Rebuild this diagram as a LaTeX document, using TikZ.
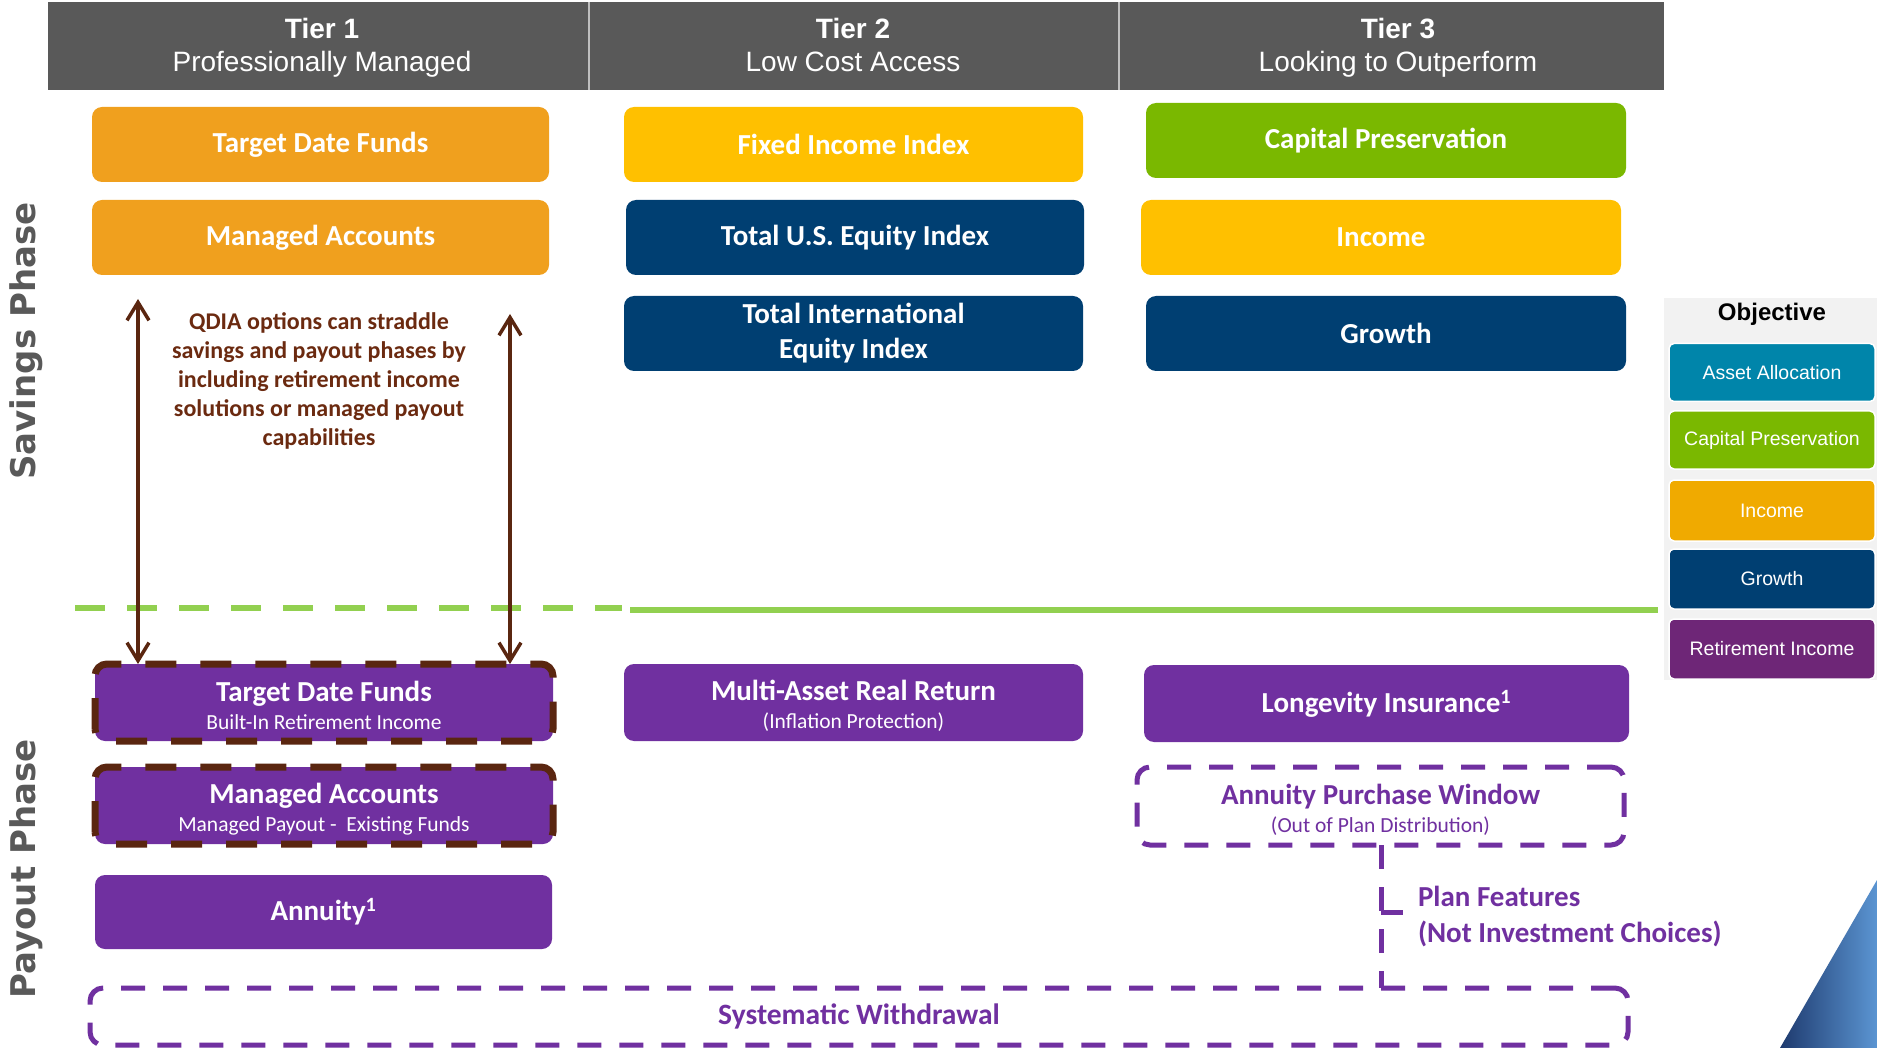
\documentclass[tikz,border=0pt]{standalone}
\usepackage{fontspec}
\setmainfont{Carlito}
\newfontfamily\arialfont{Liberation Sans}
\newfontfamily\phasefont{DejaVu Sans}
\usetikzlibrary{arrows.meta}

\definecolor{hdrgray}{HTML}{595959}
\definecolor{hdrline}{HTML}{BFBFBF}
\definecolor{tdforange}{HTML}{F0A01E}
\definecolor{incyellow}{HTML}{FFC000}
\definecolor{navy}{HTML}{003F72}
\definecolor{cpgreen}{HTML}{7AB800}
\definecolor{ripurple}{HTML}{7030A0}
\definecolor{qdiabrown}{HTML}{5A2610}
\definecolor{qdiatext}{HTML}{6B2A10}
\definecolor{sepgreen}{HTML}{92D050}
\definecolor{legbg}{HTML}{F2F2F2}
\definecolor{legteal}{HTML}{0085AA}
\definecolor{legorange}{HTML}{F0AA00}
\definecolor{legpurple}{HTML}{6E2677}
\definecolor{wedgedark}{HTML}{1E3A6E}
\definecolor{wedgelight}{HTML}{5B95D2}

\newcommand{\boxtitle}{\fontsize{29}{35}\selectfont\bfseries}
\newcommand{\boxsub}{\fontsize{21.5}{24}\selectfont\mdseries}
% first-line strut that nudges two-line box texts slightly downward
\newcommand{\dropline}{\rule{0pt}{27pt}}

\begin{document}
\begin{tikzpicture}[x=1pt,y=-1pt,
  every node/.style={inner sep=0pt, outer sep=0pt},
  fund/.style={rounded corners=10pt, text=white, align=center, font=\boxtitle},
  brownedge/.style={draw=qdiabrown, line width=7pt, dash pattern=on 31pt off 24pt},
  planedge/.style={draw=ripurple, line width=5pt, dash pattern=on 24pt off 18pt, rounded corners=13pt},
  tiername/.style={anchor=base, text=white, font=\arialfont\bfseries\fontsize{28}{33}\selectfont},
  tiersub/.style={anchor=base, text=white, font=\arialfont\fontsize{28}{33}\selectfont},
  legbox/.style={rounded corners=5pt, draw=white, line width=1.5pt, text=white,
    minimum width=206pt, font=\arialfont\fontsize{19.5}{22}\selectfont},
  qdiaarrow/.style={draw=qdiabrown, line width=3.5pt,
    {Straight Barb[length=18pt, width=22pt, line width=3.5pt]}-{Straight Barb[length=18pt, width=22pt, line width=3.5pt]}},
  phase/.style={rotate=90, text=hdrgray, font=\phasefont\bfseries\fontsize{34}{40}\selectfont}
]
\useasboundingbox (0,0) rectangle (1877,1048);
\fill[white] (0,0) rectangle (1877,1048);

% tier header band
\fill[hdrgray] (48,2) rectangle (1664,90);
\draw[hdrline, line width=2pt] (589,2) -- (589,90);
\draw[hdrline, line width=2pt] (1119,2) -- (1119,90);
\node[tiername] (tier1) at (322,39) {Tier 1};
\node[tiersub] (tier1sub) at (322,72) {Professionally Managed};
\node[tiername] (tier2) at (853,39) {Tier 2};
\node[tiersub] (tier2sub) at (853,72) {Low Cost Access};
\node[tiername] (tier3) at (1398,39) {Tier 3};
\node[tiersub] (tier3sub) at (1398,72) {Looking to Outperform};

% phase labels
\node[phase] (savings) at (26,341) {Savings Phase};
\node[phase] (payout) at (26,869) {Payout Phase};

% savings phase funds
\node[fund, fill=tdforange, minimum width=457pt, minimum height=75pt] (tdf) at (320.5,144.5) {Target Date Funds};
\node[fund, fill=tdforange, minimum width=457pt, minimum height=75pt] (ma) at (320.5,237.5) {Managed Accounts};
\node[fund, fill=incyellow, minimum width=459pt, minimum height=75pt] (fii) at (853.5,144.5) {Fixed Income Index};
\node[fund, fill=navy, minimum width=458pt, minimum height=75pt] (usei) at (855,237.5) {Total U.S. Equity Index};
\node[fund, fill=navy, minimum width=459pt, minimum height=75pt] (intl) at (853.5,333.5) {Total International\\Equity Index};
\node[fund, fill=cpgreen, minimum width=480pt, minimum height=75pt] (cp) at (1386,140.5) {Capital Preservation};
\node[fund, fill=incyellow, minimum width=480pt, minimum height=75pt] (inc) at (1381,237.5) {Income};
\node[fund, fill=navy, minimum width=480pt, minimum height=75pt] (gro) at (1386,333.5) {Growth};

% QDIA note
\node[text=qdiatext, align=center, font=\fontsize{24}{29}\selectfont\bfseries] (qdia) at (319,381)
  {QDIA options can straddle\\savings and payout phases by\\including retirement income\\solutions or managed payout\\capabilities};

% phase separator
\draw[sepgreen, line width=6pt, dash pattern=on 30pt off 22pt] (75,608) -- (622,608);
\draw[sepgreen, line width=6pt] (630,610) -- (1658,610);

% payout phase funds
\node[fund, fill=ripurple, minimum width=458pt, minimum height=77pt] (tdfp) at (324,702.5)
  {\dropline Target Date Funds\\[-7pt]{\boxsub Built-In Retirement Income}};
\node[fund, fill=ripurple, minimum width=458pt, minimum height=77pt] (map) at (324,805.5)
  {\dropline Managed Accounts\\[-7pt]{\boxsub Managed Payout -\ \ Existing Funds}};
\node[fund, fill=ripurple, minimum width=457pt, minimum height=74pt] (ann) at (323.5,912) {Annuity\textsuperscript{1}};
\node[fund, fill=ripurple, minimum width=459pt, minimum height=77pt] (marr) at (853.5,702.5)
  {\dropline Multi-Asset Real Return\\[-7pt]{\boxsub (Inflation Protection)}};
\node[fund, fill=ripurple, minimum width=485pt, minimum height=77pt] (li) at (1386.5,703.5) {Longevity Insurance\textsuperscript{1}};

% QDIA dashed outlines
\draw[brownedge, rounded corners=12pt] (tdfp.south west) rectangle (tdfp.north east);
\draw[brownedge, rounded corners=12pt] (map.south west) rectangle (map.north east);

% plan features
\node[planedge, text=ripurple, align=center, font=\boxtitle, minimum width=487pt, minimum height=78pt] (apw) at (1380.5,806)
  {\dropline Annuity Purchase Window\\[-7pt]{\boxsub (Out of Plan Distribution)}};
\node[planedge, text=ripurple, font=\fontsize{29.5}{32}\selectfont\bfseries, minimum width=1538pt, minimum height=57pt] (sw) at (859,1016.5)
  {\raisebox{-5pt}{Systematic Withdrawal}};
\coordinate (pfx) at (1381,0);
\coordinate (pftick) at (1381,912);
\draw[ripurple, line width=5pt, dash pattern=on 24pt off 18pt] (apw.south -| pfx) -- (sw.north -| pfx);
\draw[ripurple, line width=5pt] (pftick) -- ++(22,0);
\node[anchor=west, text=ripurple, align=left, font=\fontsize{29}{36}\selectfont\bfseries] (pf) at (1418,917)
  {Plan Features\\(Not Investment Choices)};

% QDIA straddle arrows
\coordinate (qa1) at (138,299);
\coordinate (qa2) at (510,314);
\draw[qdiaarrow] (qa1) -- (qa1 |- tdfp.north);
\draw[qdiaarrow] (qa2) -- (qa2 |- tdfp.north);

% objective legend
\fill[legbg] (1664,298) rectangle (1877,680);
\node[font=\arialfont\bfseries\fontsize{24}{28}\selectfont] (obj) at (1772,314) {Objective};
\node[legbox, fill=legteal, minimum height=58pt] (lg1) at (1772,372.5) {Asset Allocation};
\node[legbox, fill=cpgreen, minimum height=58pt] (lg2) at (1772,440) {Capital Preservation};
\node[legbox, fill=legorange, minimum height=61pt] (lg3) at (1772,510.5) {Income};
\node[legbox, fill=navy, minimum height=60pt] (lg4) at (1772,579) {Growth};
\node[legbox, fill=legpurple, minimum height=60pt] (lg5) at (1772,649) {Retirement Income};

% corner wedge
\shade[left color=wedgedark, right color=wedgelight] (1780,1048) -- (1877,880) -- (1877,1048) -- cycle;
\end{tikzpicture}
\end{document}
